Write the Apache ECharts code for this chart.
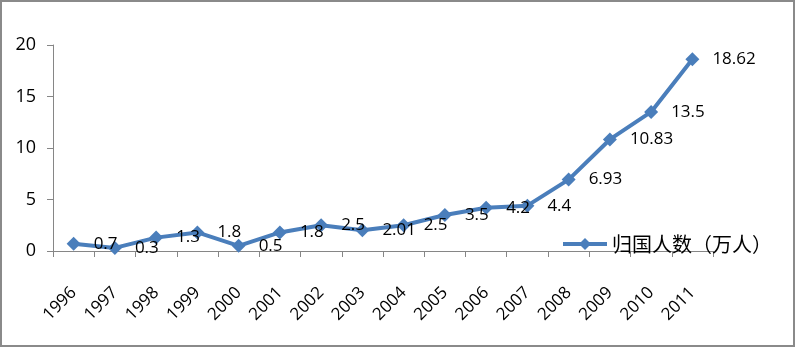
<!DOCTYPE html>
<html><head><meta charset="utf-8">
<script src="https://cdn.jsdelivr.net/npm/echarts@6/dist/echarts.min.js"></script>
<style>
html,body{margin:0;padding:0;background:#fff;}
#frame{position:absolute;left:0;top:0;width:791px;height:343px;border:2px solid #8a8a8a;background:#fff;}
#c{position:absolute;left:0;top:0;width:795px;height:347px;}
</style></head>
<body>
<div id="frame"></div>
<div id="c"></div>
<script>
const years = ['1996','1997','1998','1999','2000','2001','2002','2003','2004','2005','2006','2007','2008','2009','2010','2011'];
const returnees = [0.7,0.3,1.3,1.8,0.5,1.8,2.5,2.01,2.5,3.5,4.2,4.4,6.93,10.83,13.5,18.62];
const yTicks = [0,5,10,15,20];
const seriesName = '归国人数（万人）';

const chart = echarts.init(document.getElementById('c'), null, {renderer:'canvas'});
chart.setOption({
  animation:false,
  backgroundColor:'transparent',
  grid:{left:53,right:82,top:45,bottom:96,containLabel:false},
  legend:{
    data:[seriesName],
    left:558, top:229,
    itemWidth:44, itemHeight:12, itemGap:4,
    icon:'path://M0,4 L18,4 L22,0 L26,4 L44,4 L44,8 L26,8 L22,12 L18,8 L0,8 Z',
    itemStyle:{color:'#4A7EBB'},
    textStyle:{fontFamily:'Noto Sans CJK SC',fontSize:20,color:'#000'}
  },
  xAxis:{
    type:'category', data:years, boundaryGap:true,
    axisLine:{lineStyle:{color:'#868686',width:1}},
    axisTick:{show:true,length:6,lineStyle:{color:'#868686'},alignWithLabel:false},
    axisLabel:{rotate:45,margin:39,fontSize:17,color:'#000',fontFamily:'Open Sans',hideOverlap:false}
  },
  yAxis:{
    type:'value', min:yTicks[0], max:yTicks[yTicks.length-1], interval:5,
    axisLine:{show:true,lineStyle:{color:'#868686',width:1}},
    axisTick:{show:true,length:6,lineStyle:{color:'#868686'}},
    splitLine:{show:false},
    axisLabel:{margin:17,fontSize:18,color:'#000',fontFamily:'Open Sans'}
  },
  series:[{
    name:seriesName, type:'line', data:returnees,
    symbol:'diamond', symbolSize:14,
    lineStyle:{color:'#4A7EBB',width:4},
    itemStyle:{color:'#4A7EBB'},
    label:{show:true,position:'right',distance:13,fontSize:17,color:'#000',fontFamily:'Open Sans'}
  }]
});
</script>
</body></html>
